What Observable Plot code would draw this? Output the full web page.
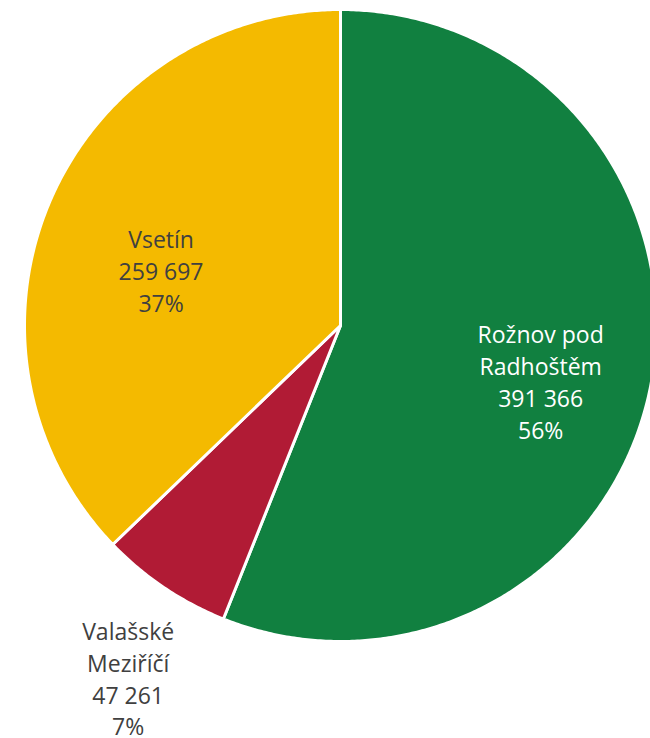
<!DOCTYPE html>
<html>
<head>
<meta charset="utf-8">
<script src="https://cdn.jsdelivr.net/npm/d3@7"></script>
<script src="https://cdn.jsdelivr.net/npm/@observablehq/plot@0.6"></script>
<style>
  html, body { margin: 0; padding: 0; background: #fff; overflow: hidden; }
  #chart svg { display: block; }
</style>
</head>
<body>
<div id="chart"></div>
<script>
// ---- data ----
const categories = ["Rožnov pod Radhoštěm", "Valašské Meziříčí", "Vsetín"];
const labelLines = ["Rožnov pod\nRadhoštěm", "Valašské\nMeziříčí", "Vsetín"];
const values = [391366, 47261, 259697];
const colors = ["#118040", "#B11B35", "#F4BA00"];

// ---- derived ----
const data = categories.map((name, i) => ({name, label: labelLines[i], value: values[i]}));
const total = d3.sum(values);
const fmt = d3.formatLocale({thousands: " ", grouping: [3], decimal: ","}).format(",d");
const arcs = d3.pie().sort(null).value(d => d.value)(data);

// polygon points for each slice in unit-circle coordinates (angle 0 = 12 o'clock, clockwise)
const slicePts = [];
for (const a of arcs) {
  const n = Math.max(8, Math.ceil((a.endAngle - a.startAngle) * 120));
  slicePts.push({name: a.data.name, x: 0, y: 0});
  for (let k = 0; k <= n; k++) {
    const t = a.startAngle + (a.endAngle - a.startAngle) * k / n;
    slicePts.push({name: a.data.name, x: Math.sin(t), y: Math.cos(t)});
  }
  slicePts.push({name: a.data.name, x: 0, y: 0});
}

function labelAt(a, k) {
  const m = (a.startAngle + a.endAngle) / 2;
  return {
    name: a.data.name,
    x: k * Math.sin(m),
    y: k * Math.cos(m),
    text: `${a.data.label}\n${fmt(a.data.value)}\n${Math.round(a.data.value / total * 100)}%`
  };
}

const labRoz = [labelAt(arcs[0], 0.645)];
const labVal = [labelAt(arcs[1], 1.3)];
const labVse = [labelAt(arcs[2], 0.6)];

const textOpts = {x: "x", y: "y", text: "text", fontSize: 23, lineHeight: 1.39, textAnchor: "middle"};

const chart = Plot.plot({
  width: 650,
  height: 738,
  margin: 0,
  style: {fontFamily: "'Open Sans', sans-serif", background: "#fff"},
  x: {domain: [-340 / 316, 310 / 316], axis: null},
  y: {domain: [-413 / 316, 325 / 316], axis: null},
  color: {domain: categories, range: colors},
  marks: [
    Plot.line(slicePts, {x: "x", y: "y", z: "name", fill: "name", stroke: "#fff", strokeWidth: 3, strokeLinejoin: "round", curve: "linear"}),
    Plot.text(labRoz, {...textOpts, fill: "#ffffff", dy: 17}),
    Plot.text(labVal, {...textOpts, fill: "#404040", dx: 17, dy: 11}),
    Plot.text(labVse, {...textOpts, fill: "#404040", dx: -5, dy: 19})
  ]
});
document.getElementById("chart").appendChild(chart);
</script>
</body>
</html>
